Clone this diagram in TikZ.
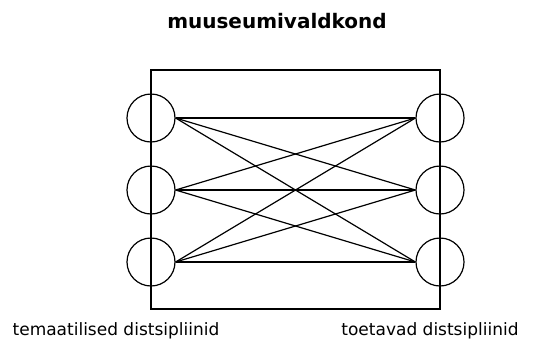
\documentclass[tikz,border=0pt]{standalone}
\usepackage{fontspec}
\setmainfont{DejaVu Sans}
\tikzset{every picture/.style={line width=1.2pt}}
\tikzset{disc/.style={draw, circle, minimum size=48pt, inner sep=0pt}}

\begin{document}
\begin{tikzpicture}[x=1pt,y=-1pt]
\useasboundingbox (0,0) rectangle (557,341);
\node[font=\fontsize{20}{22}\selectfont\bfseries] (title) at (277,21) {muuseumivaldkond};
\draw (151,70) rectangle (440,309);
\node[disc] (l1) at (151,118) {};
\node[disc] (l2) at (151,190) {};
\node[disc] (l3) at (151,262) {};
\node[disc] (r1) at (440,118) {};
\node[disc] (r2) at (440,190) {};
\node[disc] (r3) at (440,262) {};
%connections
\draw (l1.east) -- (r1.west);
\draw (l1.east) -- (r2.west);
\draw (l1.east) -- (r3.west);
\draw (l2.east) -- (r1.west);
\draw (l2.east) -- (r2.west);
\draw (l2.east) -- (r3.west);
\draw (l3.east) -- (r1.west);
\draw (l3.east) -- (r2.west);
\draw (l3.east) -- (r3.west);
\node[font=\fontsize{17}{19}\selectfont] (left) at (116,331) {temaatilised distsipliinid};
\node[font=\fontsize{17}{19}\selectfont] (right) at (430,331) {toetavad distsipliinid};
\end{tikzpicture}
\end{document}
